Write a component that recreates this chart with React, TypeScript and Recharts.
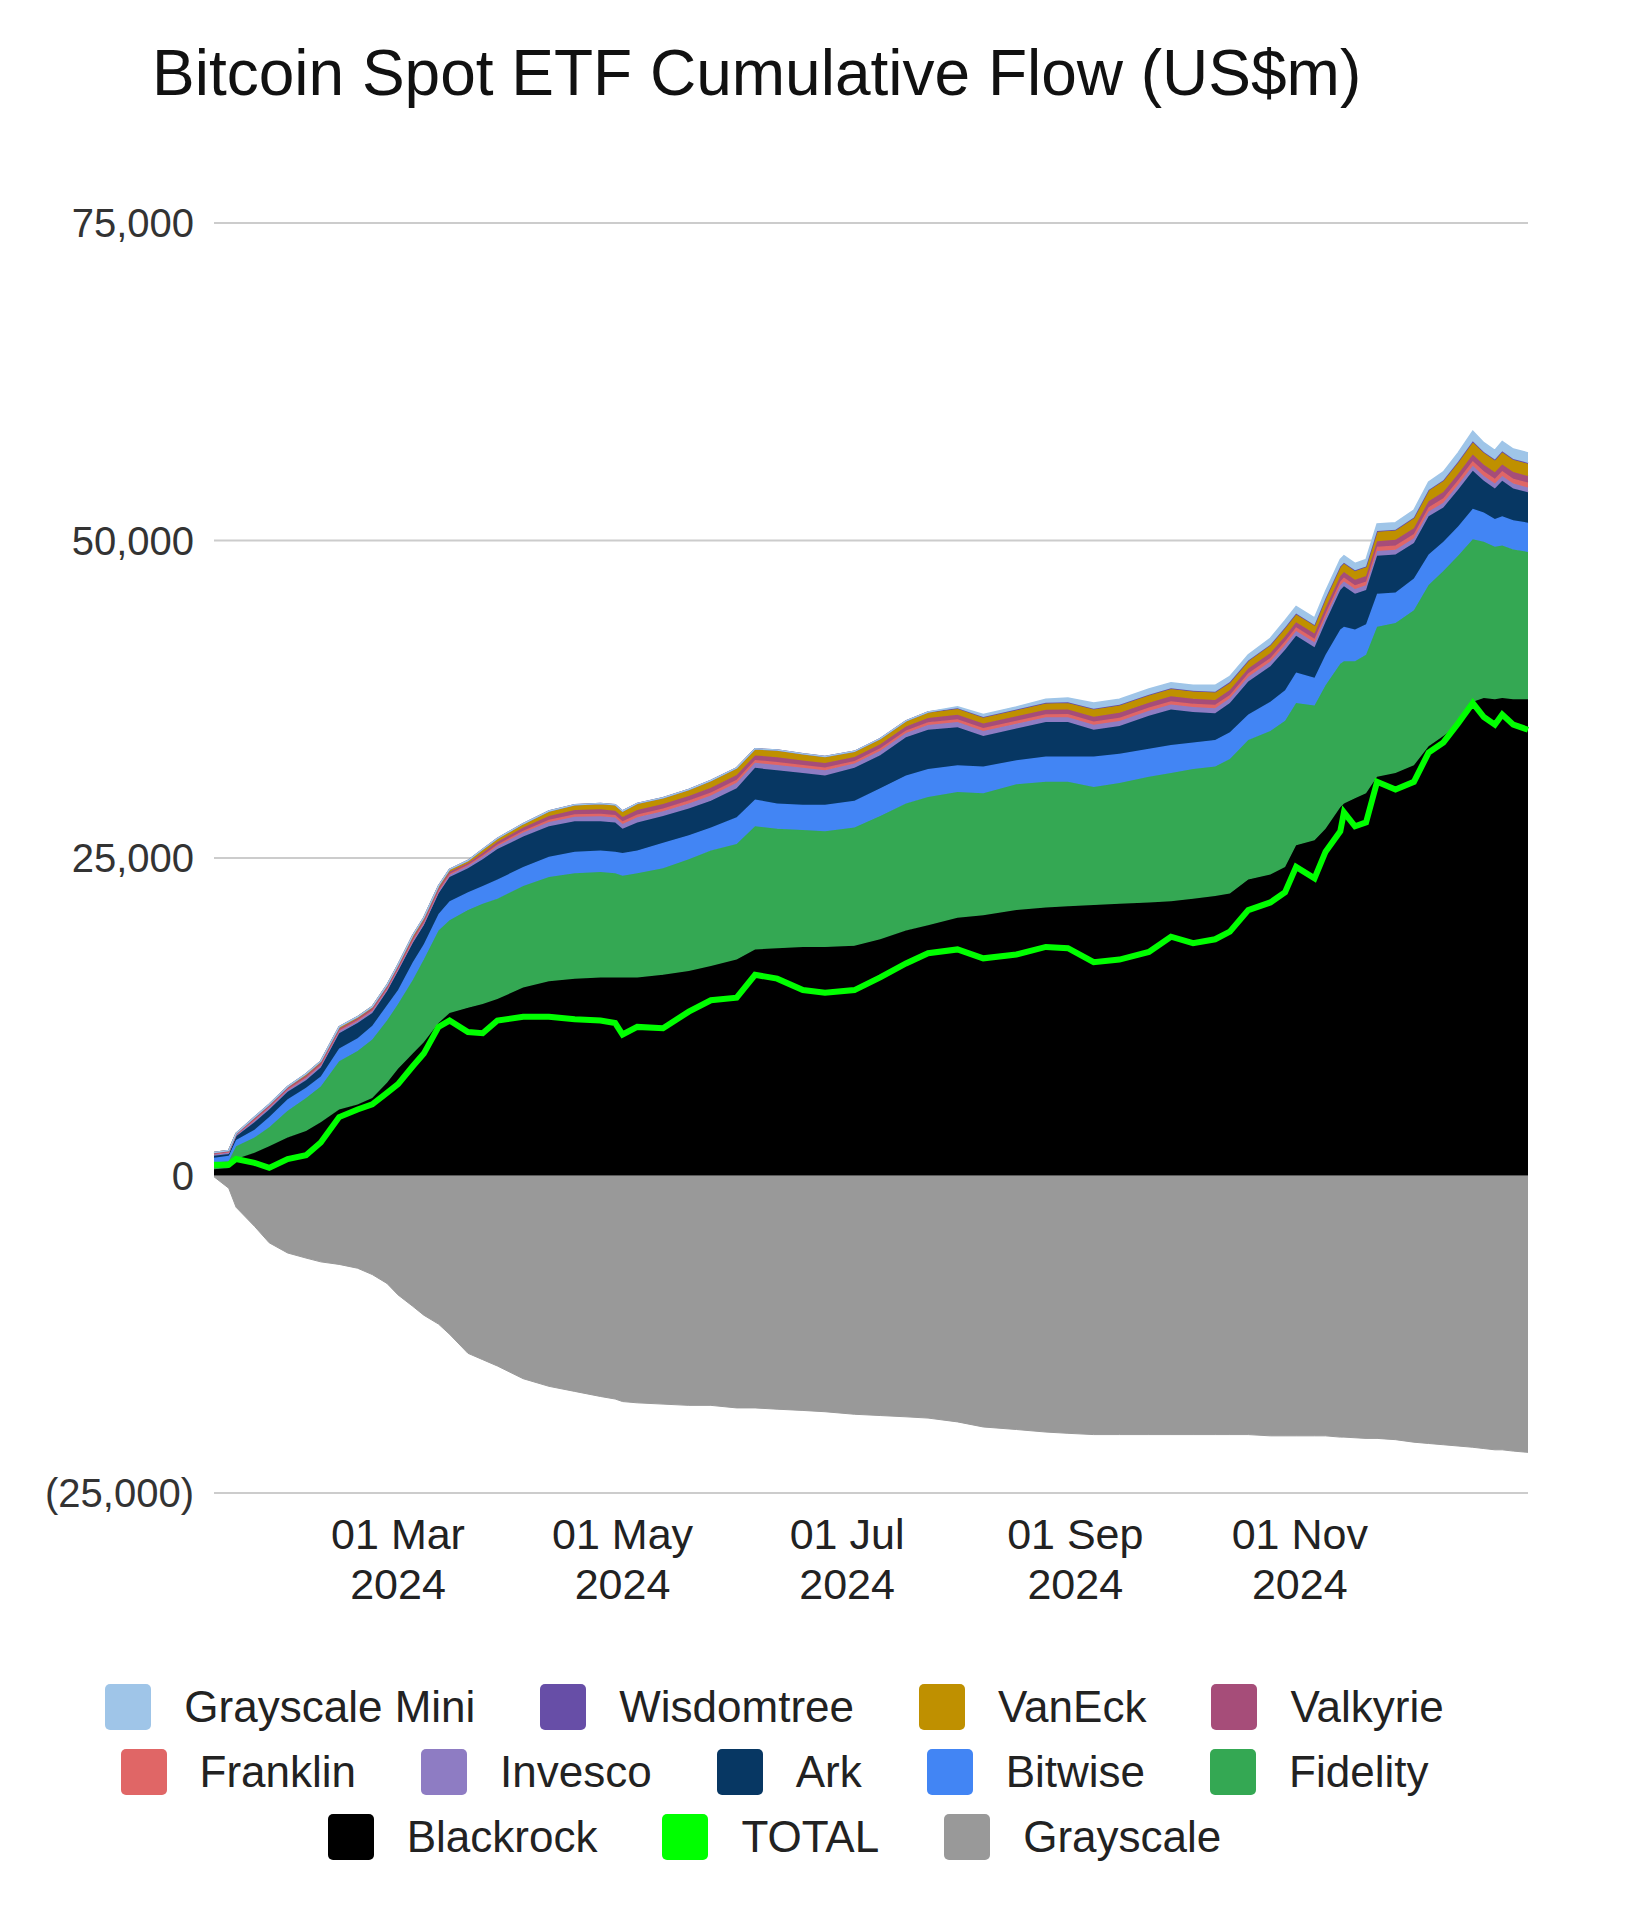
import React from 'react';
import { ComposedChart, Area, Line, XAxis, YAxis, CartesianGrid } from 'recharts';

// cumulative flows in US$m
const dates = [
  '2024-01-11', '2024-01-15', '2024-01-17', '2024-01-22', '2024-01-26', '2024-01-31',
  '2024-02-05', '2024-02-09', '2024-02-14', '2024-02-19', '2024-02-23', '2024-02-27',
  '2024-03-01', '2024-03-05', '2024-03-08', '2024-03-12', '2024-03-15', '2024-03-20', '2024-03-24', '2024-03-28',
  '2024-04-04', '2024-04-11', '2024-04-18', '2024-04-25', '2024-04-29',
  '2024-05-01', '2024-05-05', '2024-05-12', '2024-05-19', '2024-05-25',
  '2024-06-01', '2024-06-06', '2024-06-12', '2024-06-19', '2024-06-25',
  '2024-07-03', '2024-07-10', '2024-07-17', '2024-07-23', '2024-07-31',
  '2024-08-07', '2024-08-16', '2024-08-24', '2024-08-30',
  '2024-09-06', '2024-09-13', '2024-09-21', '2024-09-27',
  '2024-10-03', '2024-10-09', '2024-10-13', '2024-10-18', '2024-10-24', '2024-10-28', '2024-10-31',
  '2024-11-05', '2024-11-08', '2024-11-12', '2024-11-13', '2024-11-16', '2024-11-19', '2024-11-22', '2024-11-27',
  '2024-12-02', '2024-12-06', '2024-12-10', '2024-12-14', '2024-12-18', '2024-12-21', '2024-12-24', '2024-12-26', '2024-12-29',
  '2025-01-02',
];

const blackrock = [
  500, 600, 1300, 1800, 2300, 3000,
  3500, 4200, 5200, 5600, 6100, 7300,
  8400, 9600, 10500, 12000, 12800, 13200, 13500, 13900,
  14800, 15300, 15500, 15600, 15600,
  15600, 15600, 15800, 16100, 16500,
  17000, 17800, 17900, 18000, 18000,
  18100, 18600, 19300, 19700, 20300,
  20500, 20900, 21100, 21200,
  21300, 21400, 21500, 21600,
  21800, 22000, 22200, 23300, 23700, 24300, 26000,
  26400, 27300, 29000, 29300, 29700, 30100, 31400, 31700,
  32300, 33800, 34600, 35500, 37300, 37600, 37500, 37600, 37500,
  37500,
];

const fidelity = [
  500, 550, 1000, 1200, 1500, 2100,
  2600, 2800, 3800, 4200, 4600, 4900,
  5100, 5800, 6500, 7300, 7300, 7700, 7900, 7900,
  8000, 8200, 8300, 8300, 8200,
  8000, 8200, 8400, 8800, 9100,
  9100, 9700, 9400, 9200, 9100,
  9300, 9700, 10000, 10100, 9900,
  9600, 9900, 9900, 9800,
  9300, 9500, 9900, 10100,
  10200, 10200, 10600, 11000, 11300, 11500, 11200,
  10600, 11300, 11300, 11200, 10800, 10900, 11800, 11800,
  12200, 12700, 13000, 13300, 12800, 12300, 12000, 12000, 11800,
  11600,
];

const bitwise = [
  400, 400, 500, 600, 800, 900,
  800, 800, 1000, 1000, 1100, 1200,
  1100, 1400, 1200, 1300, 1500, 1400, 1400, 1500,
  1500, 1600, 1700, 1700, 1700,
  1800, 1800, 2000, 1900, 1800,
  2100, 2100, 2000, 2000, 2100,
  2100, 2200, 2200, 2200, 2100,
  2100, 1900, 2000, 2000,
  2400, 2300, 2200, 2200,
  2100, 2100, 2100, 2000, 2300, 2400, 2400,
  2200, 2400, 2700, 2700, 2500, 2400, 2600, 2400,
  2500, 2400, 2300, 2300, 2400, 2300, 2200, 2300, 2300,
  2300,
];

const ark = [
  150, 150, 300, 600, 600, 600,
  600, 700, 1200, 1200, 1000, 1100,
  1500, 1500, 1500, 1600, 1900, 1900, 2100, 2400,
  2400, 2400, 2400, 2300, 2300,
  1900, 2200, 2100, 2100, 2100,
  2300, 2500, 2600, 2500, 2300,
  2600, 2600, 3000, 3100, 3000,
  2400, 2500, 2700, 2700,
  2100, 2200, 2600, 2800,
  2400, 2100, 2300, 2600, 2800, 3200, 2900,
  2400, 2600, 3100, 3200, 2800, 2700, 3000, 3000,
  2800, 3000, 2700, 2900, 3000, 2500, 2400, 2800, 2500,
  2400,
];

const invesco = [
  120, 120, 100, 150, 150, 150,
  170, 170, 170, 170, 170, 170,
  170, 180, 180, 180, 180, 180, 220, 250,
  300, 330, 350, 380, 380,
  380, 400, 390, 400, 420,
  420, 400, 420, 400, 400,
  350, 350, 350, 380, 400,
  400, 380, 380, 380,
  390, 390, 390, 390,
  390, 390, 380, 380, 380, 380, 380,
  380, 380, 380, 380, 380, 380, 380, 380,
  380, 380, 380, 380, 380, 380, 380, 380, 380,
  370,
];

const franklin = [
  40, 40, 30, 50, 60, 60,
  70, 70, 70, 70, 70, 70,
  70, 80, 80, 80, 80, 80, 100, 110,
  150, 180, 200, 210, 210,
  210, 220, 210, 220, 240,
  240, 220, 240, 220, 220,
  190, 190, 190, 200, 220,
  230, 230, 240, 250,
  260, 260, 260, 260,
  260, 270, 260, 260, 270, 280, 280,
  280, 300, 300, 300, 300, 300, 320, 320,
  330, 340, 350, 360, 380, 380, 380, 390, 390,
  390,
];

const valkyrie = [
  60, 60, 50, 100, 100, 100,
  120, 120, 120, 120, 120, 120,
  120, 150, 150, 150, 150, 150, 200, 210,
  250, 300, 320, 340, 340,
  340, 360, 350, 360, 380,
  380, 360, 380, 360, 360,
  310, 310, 310, 340, 360,
  360, 350, 350, 360,
  380, 380, 380, 380,
  380, 390, 380, 380, 400, 410, 410,
  410, 430, 430, 430, 430, 430, 450, 450,
  460, 480, 490, 500, 520, 510, 510, 520, 520,
  520,
];

const vaneck = [
  40, 40, 30, 90, 80, 80,
  130, 130, 130, 130, 130, 130,
  130, 180, 180, 180, 180, 180, 250, 260,
  280, 370, 410, 450, 450,
  450, 500, 470, 500, 540,
  540, 500, 540, 500, 500,
  430, 430, 430, 460, 500,
  500, 500, 520, 540,
  600, 600, 600, 600,
  600, 620, 600, 600, 620, 650, 650,
  650, 700, 700, 700, 700, 700, 760, 760,
  800, 840, 880, 920, 980, 950, 950, 980, 980,
  980,
];

const wisdomtree = [
  10, 10, 10, 10, 10, 10,
  10, 10, 10, 10, 10, 10,
  10, 10, 10, 10, 10, 10, 20, 20,
  20, 20, 20, 20, 20,
  20, 20, 20, 20, 20,
  20, 20, 20, 20, 20,
  20, 20, 20, 20, 20,
  20, 30, 30, 30,
  30, 30, 30, 30,
  30, 30, 30, 30, 30, 30, 30,
  30, 40, 40, 40, 40, 40, 40, 40,
  40, 40, 40, 40, 50, 50, 50, 50, 50,
  50,
];

const grayscaleMini = [
  0, 0, 0, 0, 0, 0,
  0, 0, 0, 0, 0, 0,
  0, 0, 0, 0, 0, 0, 0, 0,
  0, 0, 0, 0, 0,
  0, 0, 0, 0, 0,
  0, 0, 0, 0, 0,
  0, 0, 0, 0, 100,
  190, 210, 280, 340,
  440, 440, 440, 440,
  440, 500, 450, 450, 500, 550, 550,
  550, 550, 550, 550, 550, 550, 550, 550,
  590, 620, 660, 700, 790, 730, 730, 780, 780,
  790,
];

const grayscale = [
  -100, -1000, -2500, -4000, -5300, -6100,
  -6500, -6800, -7000, -7300, -7800, -8500,
  -9400, -10300, -11000, -11700, -12500, -14000, -14500, -15000,
  -16000, -16600, -17000, -17400, -17600,
  -17800, -17900, -18000, -18100, -18100,
  -18300, -18300, -18400, -18500, -18600,
  -18800, -18900, -19000, -19100, -19400,
  -19800, -20000, -20200, -20300,
  -20400, -20400, -20400, -20400,
  -20400, -20400, -20400, -20400, -20500, -20500, -20500,
  -20500, -20500, -20600, -20600, -20650, -20700, -20700, -20800,
  -21000, -21100, -21200, -21300, -21400, -21500, -21600, -21600, -21700,
  -21800,
];

const total = [
  850, 850, 1300, 1000, 600, 1300,
  1600, 2600, 4600, 5200, 5600, 6500,
  7200, 8600, 9600, 11700, 12200, 11300, 11200, 12200,
  12500, 12500, 12300, 12200, 12000,
  11100, 11700, 11600, 12900, 13800,
  14000, 15800, 15500, 14600, 14400,
  14600, 15600, 16700, 17500, 17800,
  17100, 17400, 18000, 17900,
  16800, 17000, 17600, 18800,
  18300, 18600, 19200, 20900, 21500, 22300, 24300,
  23400, 25500, 27100, 28600, 27500, 27800, 31000, 30400,
  31000, 33300, 34100, 35600, 37200, 36100, 35500, 36300, 35500,
  35100,
];

const yTicks = [-25000, 0, 25000, 50000, 75000];
const xTicks = ['2024-03-01', '2024-05-01', '2024-07-01', '2024-09-01', '2024-11-01'];
const MONTHS = ['Jan', 'Feb', 'Mar', 'Apr', 'May', 'Jun', 'Jul', 'Aug', 'Sep', 'Oct', 'Nov', 'Dec'];

const FONT = '"Liberation Sans", Arial, Helvetica, sans-serif';

// bottom to top of the positive stack
const stackSeries = [
  { key: 'Blackrock', color: '#000000', values: blackrock },
  { key: 'Fidelity', color: '#34a853', values: fidelity },
  { key: 'Bitwise', color: '#4285f4', values: bitwise },
  { key: 'Ark', color: '#073763', values: ark },
  { key: 'Invesco', color: '#8e7cc3', values: invesco },
  { key: 'Franklin', color: '#e06666', values: franklin },
  { key: 'Valkyrie', color: '#a64d79', values: valkyrie },
  { key: 'VanEck', color: '#bf9000', values: vaneck },
  { key: 'Wisdomtree', color: '#674ea7', values: wisdomtree },
  { key: 'Grayscale Mini', color: '#9fc5e8', values: grayscaleMini },
];

const colors: Record<string, string> = { TOTAL: '#00ff00', Grayscale: '#999999' };
stackSeries.forEach((s) => { colors[s.key] = s.color; });

const legendRows = [
  ['Grayscale Mini', 'Wisdomtree', 'VanEck', 'Valkyrie'],
  ['Franklin', 'Invesco', 'Ark', 'Bitwise', 'Fidelity'],
  ['Blackrock', 'TOTAL', 'Grayscale'],
];

const data = dates.map((d, i) => {
  const row: Record<string, number> = { t: Date.parse(d), Grayscale: grayscale[i], TOTAL: total[i] };
  stackSeries.forEach((s) => { row[s.key] = s.values[i]; });
  return row;
});

const fmtY = (v: number) => (v < 0 ? `(${Math.abs(v).toLocaleString('en-US')})` : v.toLocaleString('en-US'));

const YTick = ({ x, y, payload }: any) => (
  <text x={x} y={y} dy="0.36em" textAnchor="end" fontSize={40} fontFamily={FONT} fill="#333">
    {fmtY(payload.value)}
  </text>
);

const XTick = ({ x, y, payload }: any) => {
  const d = new Date(payload.value);
  const day = String(d.getUTCDate()).padStart(2, '0');
  return (
    <g fontSize={43} fontFamily={FONT} fill="#222" textAnchor="middle">
      <text x={x} y={y + 41} dy="0.36em">{`${day} ${MONTHS[d.getUTCMonth()]}`}</text>
      <text x={x} y={y + 91} dy="0.36em">{d.getUTCFullYear()}</text>
    </g>
  );
};

export default function App() {
  return (
    <div style={{ position: 'absolute', left: 0, top: 0, width: 1628, height: 1920, background: '#fff', fontFamily: FONT }}>
      <div style={{ position: 'absolute', left: 152, top: 41, fontSize: 64, lineHeight: '64px', color: '#111', whiteSpace: 'nowrap' }}>
        Bitcoin Spot ETF Cumulative Flow (US$m)
      </div>

      <div style={{ position: 'absolute', left: 0, top: 0 }}>
        <ComposedChart width={1628} height={1640} data={data} margin={{ top: 223, right: 100, bottom: 47, left: 0 }}>
          <CartesianGrid vertical={false} stroke="#cccccc" strokeWidth={2} />
          <XAxis
            dataKey="t"
            type="number"
            domain={[Date.parse(dates[0]), Date.parse(dates[dates.length - 1])]}
            ticks={xTicks.map((d) => Date.parse(d))}
            interval={0}
            height={100}
            axisLine={false}
            tickLine={false}
            tickSize={0}
            tickMargin={0}
            tick={<XTick />}
          />
          <YAxis
            type="number"
            domain={[-25000, 75000]}
            ticks={yTicks}
            width={214}
            axisLine={false}
            tickLine={false}
            tickSize={0}
            tickMargin={20}
            tick={<YTick />}
          />
          <Area
            dataKey="Grayscale"
            type="linear"
            fill="#999999"
            fillOpacity={1}
            stroke="#999999"
            strokeWidth={1}
            isAnimationActive={false}
          />
          {stackSeries.map((s) => (
            <Area
              key={s.key}
              dataKey={s.key}
              stackId="pos"
              type="linear"
              fill={s.color}
              fillOpacity={1}
              stroke={s.color}
              strokeWidth={1.5}
              isAnimationActive={false}
            />
          ))}
          <Line dataKey="TOTAL" type="linear" stroke="#00ff00" strokeWidth={6} dot={false} isAnimationActive={false} />
        </ComposedChart>
      </div>

      {legendRows.map((row, r) => (
        <div
          key={r}
          style={{
            position: 'absolute', left: 0, top: 1684 + r * 65, width: 1549,
            display: 'flex', justifyContent: 'center', gap: 65,
          }}
        >
          {row.map((name) => (
            <div key={name} style={{ display: 'flex', alignItems: 'center' }}>
              <div style={{ width: 46, height: 46, borderRadius: 5, background: colors[name], marginRight: 33 }} />
              <span style={{ fontSize: 44, lineHeight: '46px', color: '#222', whiteSpace: 'nowrap' }}>{name}</span>
            </div>
          ))}
        </div>
      ))}
    </div>
  );
}
